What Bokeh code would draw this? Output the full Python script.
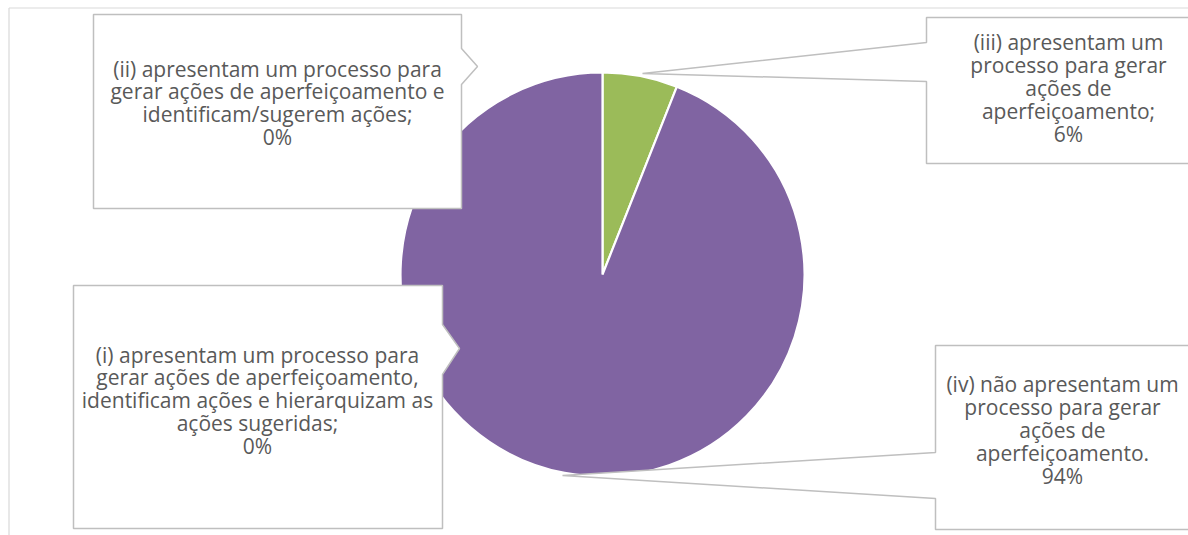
import numpy as np
from bokeh.plotting import figure
from bokeh.models import Range1d, ColumnDataSource
from bokeh.core.properties import value
from bokeh.embed import file_html
from bokeh.resources import INLINE

# ---- data ----
categories = ["(i)", "(ii)", "(iii)", "(iv)"]
values = [0, 0, 6, 94]
label_lines = [
    ["(i) apresentam um processo para", "gerar ações de aperfeiçoamento,",
     "identificam ações e hierarquizam as", "ações sugeridas;"],
    ["(ii) apresentam um processo para", "gerar ações de aperfeiçoamento e",
     "identificam/sugerem ações;"],
    ["(iii) apresentam um", "processo para gerar", "ações de", "aperfeiçoamento;"],
    ["(iv) não apresentam um", "processo para gerar", "ações de", "aperfeiçoamento."],
]
colors = ["#4F81BD", "#C0504D", "#9BBB59", "#8064A2"]

# ---- layout (page pixel helpers) ----
W, H = 1188, 535
def X(px):
    return px
def Y(py):
    return H - py

p = figure(width=W, height=H, x_range=Range1d(0, W), y_range=Range1d(0, H),
           output_backend="svg", toolbar_location=None, min_border=0,
           x_axis_location=None, y_axis_location=None)
p.grid.visible = False
p.outline_line_color = None
p.background_fill_color = "white"
p.border_fill_color = "white"

# chart area border (left and top)
p.multi_line(xs=[[X(8.5), X(8.5)], [X(8.5), X(1300)]],
             ys=[[Y(560), Y(7.5)], [Y(7.5), Y(7.5)]],
             line_color="#d9d9d9", line_width=1.2)

# ---- pie ----
cx, cy, r = X(602), Y(274), 202
fr = np.array(values, dtype=float) / sum(values)
cum = np.concatenate([[0.0], np.cumsum(fr)])
start = np.pi / 2 - cum[:-1] * 2 * np.pi
end = np.pi / 2 - cum[1:] * 2 * np.pi
mask = fr > 0
src = ColumnDataSource(dict(start=start[mask], end=end[mask],
                            color=[c for c, m in zip(colors, mask) if m]))
p.wedge(x=cx, y=cy, radius=r, start_angle="start", end_angle="end",
        direction="clock", fill_color="color", line_color="white",
        line_width=2.2, source=src)

# ---- callout boxes ----
boxes = [
    [(73, 285), (442, 285), (442, 324), (459, 348), (442, 374), (442, 528), (73, 528)],
    [(93, 14), (461, 14), (461, 48), (477, 66), (461, 84), (461, 208), (93, 208)],
    [(926, 17), (1300, 17), (1300, 163), (926, 163), (926, 81), (642, 73), (926, 42)],
    [(935, 345), (1300, 345), (1300, 529), (935, 529), (935, 498), (562, 475), (935, 452)],
]
p.patches(xs=[[X(a) for a, b in bx] for bx in boxes],
          ys=[[Y(b) for a, b in bx] for bx in boxes],
          fill_color="white", line_color="#bfbfbf", line_width=1.5)

# ---- labels ----
text_pos = [(257, 354, 22.8), (277, 68, 22.8), (1068, 41, 23.2), (1062, 383, 23.2)]
tx, ty, tt = [], [], []
for lines, v, (px, py, dy) in zip(label_lines, values, text_pos):
    allx = lines + [f"{v}%"]
    for k, s in enumerate(allx):
        tx.append(X(px))
        ty.append(Y(py + k * dy))
        tt.append(s)
p.text(x=tx, y=ty, text=tt, text_align="center", text_baseline="middle",
       text_font=value("Open Sans"), text_font_size="21px", text_color="#595959")

open("out.html", "w").write(file_html(p, INLINE))
